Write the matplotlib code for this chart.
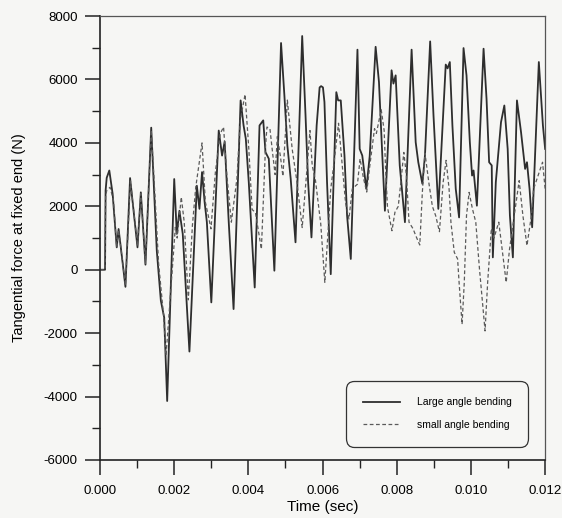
import matplotlib.pyplot as plt
import numpy as np
from matplotlib.ticker import MultipleLocator, FormatStrFormatter

plt.rcParams['font.family'] = ['Liberation Sans', 'DejaVu Sans']
plt.rcParams['axes.unicode_minus'] = False

# time in milliseconds, force in N
t_large = [0, 0.135, 0.15, 0.18, 0.25, 0.34, 0.45, 0.50, 0.56, 0.685, 0.81, 1.01, 1.10, 1.225,
           1.38, 1.53, 1.64, 1.73, 1.81, 2.00, 2.07, 2.14, 2.23, 2.41, 2.61, 2.68, 2.75, 2.82,
           2.88, 3.00, 3.20, 3.29, 3.36, 3.47, 3.60, 3.79, 3.87, 3.93, 4.01, 4.17, 4.30, 4.40,
           4.46, 4.55, 4.70, 4.88, 4.97, 5.05, 5.14, 5.27, 5.45, 5.54, 5.61, 5.70, 5.84, 5.92,
           5.96, 6.01, 6.05, 6.12, 6.22, 6.37, 6.42, 6.49, 6.59, 6.66, 6.76, 6.94, 7.00, 7.07,
           7.18, 7.27, 7.43, 7.52, 7.61, 7.68, 7.86, 7.91, 7.97, 8.08, 8.22, 8.40, 8.51, 8.58,
           8.69, 8.76, 8.90, 8.99, 9.12, 9.32, 9.37, 9.43, 9.50, 9.59, 9.68, 9.80, 9.88, 9.97,
           10.03, 10.07, 10.16, 10.34, 10.42, 10.49, 10.56, 10.59, 10.67, 10.81, 10.90, 10.99,
           11.05, 11.13, 11.24, 11.35, 11.46, 11.51, 11.58, 11.65, 11.83, 11.94, 12.0]
f_large = [0, 0, 2500, 2900, 3130, 2390, 705, 1285, 705, -540, 2890, 705, 2440, 160,
           4480, 600, -980, -1510, -4140, 2860, 1130, 1860, 1130, -2580, 2650, 1920, 3080, 2130,
           1500, -1030, 4390, 3600, 4040, 1500, -1240, 5340, 4550, 4130, 2760, -560, 4550, 4710,
           3710, 3500, -30, 7150, 5500, 3920, 2870, 865, 7370, 4870, 2760, 1020, 4550, 5750,
           5790, 5750, 5290, 2760, -140, 5600, 5340, 5340, 3600, 1710, 340, 6940, 3810, 3600,
           2550, 3580, 7030, 5920, 3600, 1860, 6290, 5870, 6130, 3290, 1500, 6940, 4020, 3390,
           2710, 3600, 7200, 4870, 1920, 6470, 6350, 6550, 4550, 2550, 1650, 6990, 6130, 4020,
           2970, 3130, 2020, 6970, 5390, 3390, 3290, 390, 2760, 4650, 5180, 3810,
           1710, 390, 5340, 4340, 3180, 3390, 2550, 1340, 6550, 4550, 3810]

t_small = [0, 0.135, 0.15, 0.18, 0.27, 0.36, 0.45, 0.50, 0.56, 0.685, 0.82, 1.01, 1.10, 1.225,
           1.38, 1.45, 1.58, 1.71, 1.78, 2.03, 2.08, 2.19, 2.27, 2.38, 2.49, 2.58, 2.75, 2.84,
           2.93, 2.99, 3.11, 3.24, 3.33, 3.42, 3.54, 3.69, 3.78, 3.91, 4.01, 4.10, 4.19, 4.35,
           4.46, 4.50, 4.58, 4.66, 4.72, 4.78, 4.86, 4.93, 5.05, 5.18, 5.31, 5.45, 5.59, 5.66,
           5.72, 5.81, 5.95, 6.06, 6.22, 6.30, 6.43, 6.53, 6.62, 6.71, 6.80, 6.94, 7.01, 7.10,
           7.19, 7.27, 7.40, 7.45, 7.58, 7.66, 7.70, 7.75, 7.87, 7.95, 8.04, 8.11, 8.19, 8.26,
           8.33, 8.44, 8.51, 8.62, 8.69, 8.76, 8.87, 8.96, 9.05, 9.15, 9.25, 9.33, 9.41, 9.46,
           9.55, 9.64, 9.68, 9.76, 9.82, 9.88, 9.95, 10.04, 10.13, 10.23, 10.38, 10.45, 10.55,
           10.62, 10.75, 10.84, 10.95, 11.04, 11.13, 11.30, 11.40, 11.51, 11.63, 11.69, 11.87,
           11.93, 12.0]
f_small = [0, 0, 2300, 2500, 2600, 2200, 700, 1250, 700, -500, 2800, 750, 2400, 200,
           4400, 3000, 180, -1400, -2700, 1340, 1000, 2290, 1500, -950, 1390, 2600, 4000, 2130,
           1640, 1290, 3080, 4290, 4500, 2970, 1500, 2870, 4710, 5530, 3830, 1900, 1800, 650,
           3860, 4500, 4450, 3600, 3000, 4200, 3600, 2950, 5350, 3810, 2760, 1330, 3340, 4390,
           3290, 2800, 1450, -400, 2550, 3300, 4620, 3290, 2100, 1600, 2550, 2700, 3500, 2900,
           2450, 3250, 4450, 4300, 5050, 4390, 3130, 1970, 1230, 1810, 2000, 2760, 3700, 2970,
           1500, 1290, 1080, 780, 2450, 3680, 2700, 2000, 1700, 1200, 2760, 3450, 2550, 1500,
           550, 340, -400, -1720, -400, 1710, 2440, 1920, 1500, 20, -1930, -400, 1300,
           1000, 1500, 650, -400, 650, 1400, 2810, 1710, 760, 1710, 2550, 3180,
           3390, 2550]

labels = ['Large angle bending', 'small angle bending']

fig = plt.figure(figsize=(5.62, 5.18), dpi=100, facecolor='#f6f6f4')
ax = fig.add_axes([0.178, 0.112, 0.792, 0.857])
ax.set_facecolor('#f6f6f4')

ax.plot(np.array(t_large) * 1e-3, f_large, color='#2e2e2e', lw=1.3,
        solid_joinstyle='round', label=labels[0])
ax.plot(np.array(t_small) * 1e-3, f_small, color='#5a5a5a', lw=0.9,
        linestyle=(0, (3, 2)), label=labels[1])

ax.set_xlim(0, 0.012)
ax.set_ylim(-6000, 8000)
ax.xaxis.set_major_locator(MultipleLocator(0.002))
ax.xaxis.set_minor_locator(MultipleLocator(0.001))
ax.xaxis.set_major_formatter(FormatStrFormatter('%.3f'))
ax.yaxis.set_major_locator(MultipleLocator(2000))
ax.yaxis.set_minor_locator(MultipleLocator(1000))

ax.tick_params(which='major', direction='out', length=11, width=1.1, color='#222222',
               labelsize=9.5, pad=5)
ax.tick_params(axis='x', which='major', pad=7)
ax.tick_params(which='minor', direction='out', length=5.5, width=1.0, color='#222222')
for side in ['left', 'bottom']:
    ax.spines[side].set_linewidth(1.2)
    ax.spines[side].set_color('#222222')
for side in ['top', 'right']:
    ax.spines[side].set_linewidth(0.9)
    ax.spines[side].set_color('#555555')

ax.set_xlabel('Time (sec)', fontsize=11, labelpad=2)
ax.set_ylabel('Tangential force at fixed end (N)', fontsize=10.5, labelpad=13)

leg = ax.legend(loc='lower right', bbox_to_anchor=(0.962, 0.03), fontsize=7.5,
                handlelength=3.6, handletextpad=1.6, borderpad=1.6, labelspacing=1.2,
                frameon=True, fancybox=True, borderaxespad=0)
frame = leg.get_frame()
frame.set_boxstyle('round,pad=0,rounding_size=0.8')
frame.set_edgecolor('#333333')
frame.set_linewidth(0.9)
frame.set_facecolor('#f6f6f4')
frame.set_alpha(1)

fig.savefig('out.png', dpi=100, facecolor=fig.get_facecolor())
